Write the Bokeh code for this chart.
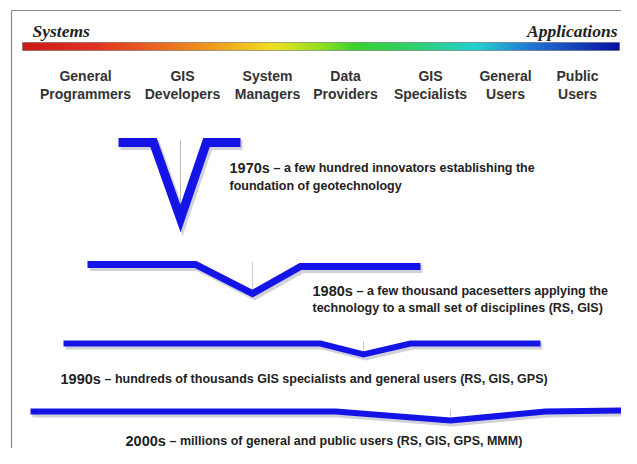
from bokeh.plotting import figure
from bokeh.models import Range1d
from bokeh.core.properties import value
from bokeh.embed import file_html
from bokeh.resources import INLINE
import numpy as np

# ---------------- data ----------------
cat_line1 = ["General", "GIS", "System", "Data", "GIS", "General", "Public"]
cat_line2 = ["Programmers", "Developers", "Managers", "Providers", "Specialists", "Users", "Users"]
cat_x = [85, 182, 267, 345, 430, 505, 577]

eras = ["1970s", "1980s", "1990s", "2000s"]
era_xs = [
    [118, 153, 180, 206, 240],
    [87, 195, 252, 300, 420],
    [63, 320, 363, 410, 540],
    [30, 335, 450, 545, 622],
]
era_ys = [
    [142, 142, 218, 142, 142],
    [264, 264, 293, 266, 266],
    [343, 343, 354, 343, 343],
    [411, 411, 420, 411, 410],
]
era_text1 = [
    "\u2013 a few hundred innovators establishing the",
    "\u2013 a few thousand pacesetters applying the",
    "\u2013 hundreds of thousands GIS specialists and general users (RS, GIS, GPS)",
    "\u2013 millions of general and public users  (RS, GIS, GPS, MMM)",
]
era_text2 = [
    "foundation of geotechnology",
    "technology to a small set of disciplines (RS, GIS)",
    "",
    "",
]

# ---------------- figure ----------------
W, H = 621, 448
p = figure(width=W, height=H, output_backend="svg", toolbar_location=None,
           x_range=Range1d(0, W), y_range=Range1d(H, 0),
           min_border=0, background_fill_color="white", border_fill_color="white")
p.axis.visible = False
p.grid.visible = False
p.outline_line_color = None

# frame
p.line([11, 11, 640], [470, 10, 10], line_color="#8a8a8a", line_width=1.2)

# header texts
p.text([32], [30], text=["Systems"], text_font=value("Liberation Serif"),
       text_font_style="bold italic", text_font_size="17.5px", text_color="#222222",
       text_baseline="middle")
p.text([617], [30], text=["Applications"], text_font=value("Liberation Serif"),
       text_font_style="bold italic", text_font_size="17.5px", text_color="#222222",
       text_align="right", text_baseline="middle")

# gradient bar
stops = [0.0, 0.12, 0.3, 0.42, 0.5, 0.56, 0.66, 0.76, 0.86, 1.0]
cols = ["#cc1818", "#e03020", "#f09020", "#f0e020", "#90e020", "#38d030",
        "#30d070", "#20d0d0", "#2070d0", "#0a10a0"]
def hex2rgb(h):
    return np.array([int(h[i:i + 2], 16) for i in (1, 3, 5)], dtype=float)
rgb = np.array([hex2rgb(c) for c in cols])
x0, x1, nseg = 22, 619, 150
edges = np.linspace(x0, x1, nseg + 1)
t = (edges[:-1] + edges[1:]) / 2
tt = (t - x0) / (x1 - x0)
seg_cols = []
for v in tt:
    r = np.interp(v, stops, rgb[:, 0]); g = np.interp(v, stops, rgb[:, 1]); b = np.interp(v, stops, rgb[:, 2])
    seg_cols.append("#%02x%02x%02x" % (int(r), int(g), int(b)))
p.quad(left=edges[:-1], right=np.minimum(edges[1:] + 0.6, x1), top=[42] * nseg, bottom=[50] * nseg,
       fill_color=seg_cols, line_color=None)
p.quad(left=[x0], right=[x1], top=[42], bottom=[50], fill_color=None,
       line_color="#555555", line_width=0.8, line_alpha=0.6)

# category labels
p.text(cat_x, [75] * 7, text=cat_line1, text_font=value("Liberation Sans"),
       text_font_style="bold", text_font_size="14px", text_color="#333333",
       text_align="center", text_baseline="middle")
p.text(cat_x, [93] * 7, text=cat_line2, text_font=value("Liberation Sans"),
       text_font_style="bold", text_font_size="14px", text_color="#333333",
       text_align="center", text_baseline="middle")

# vertex marker lines
p.line([180, 180], [140, 205], line_color="#bbbbbb", line_width=1)
for i in (1, 2, 3):
    vx = era_xs[i][2]
    vy = era_ys[i][2]
    p.line([vx, vx], [era_ys[i][0] - 2, vy - 4], line_color="#999999",
           line_width=1, line_dash="1 1")

# curves with soft shadow
widths = [9, 7, 6, 6]
for xs, ys, w in zip(era_xs, era_ys, widths):
    p.line([x + 2 for x in xs], [y + 2.5 for y in ys], line_color="#9a9ab0",
           line_alpha=0.45, line_width=w + 1, line_join="miter")
    p.line(xs, ys, line_color="#1414e6", line_width=w, line_join="miter")

# era texts
txt_pos = [(229, 167, 185), (312, 290, 307), (60, 378, None), (125, 440, None)]
for era, t1, t2, (tx, ty1, ty2) in zip(eras, era_text1, era_text2, txt_pos):
    p.text([tx], [ty1], text=[era], text_font=value("Liberation Sans"),
           text_font_style="bold", text_font_size="14.5px", text_color="#222222",
           text_baseline="middle")
    p.text([tx + 44], [ty1 + 0.5], text=[t1], text_font=value("Liberation Sans"),
           text_font_style="bold", text_font_size="12.5px", text_color="#222222",
           text_baseline="middle")
    if t2:
        p.text([tx], [ty2], text=[t2], text_font=value("Liberation Sans"),
               text_font_style="bold", text_font_size="12.5px", text_color="#222222",
               text_baseline="middle")

open("out.html", "w").write(file_html(p, INLINE))
